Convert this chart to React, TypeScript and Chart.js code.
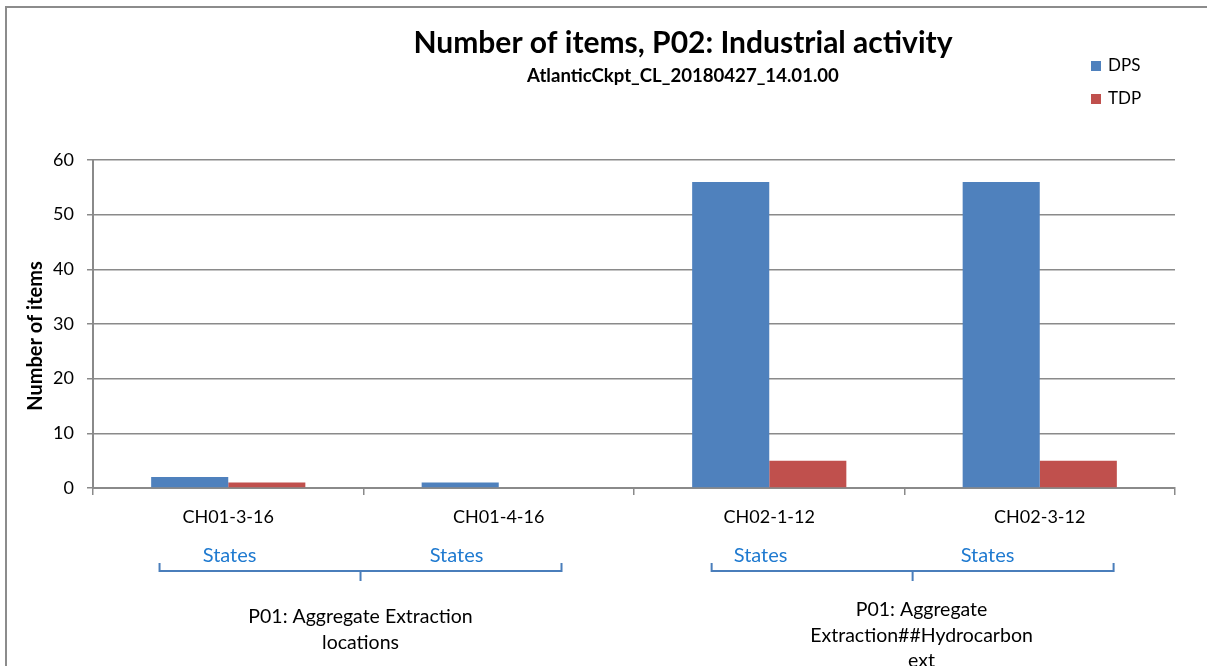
import React, { useEffect, useRef } from 'react';
import { Chart, registerables } from 'chart.js';

Chart.register(...registerables);

const titleText = 'Number of items, P02: Industrial activity';
const subtitleText = 'AtlanticCkpt_CL_20180427_14.01.00';
const yAxisTitle = 'Number of items';
const categories = ['CH01-3-16', 'CH01-4-16', 'CH02-1-12', 'CH02-3-12'];
const seriesNames = ['DPS', 'TDP'];
const dpsValues = [2, 1, 56, 56];
const tdpValues = [1, 0, 5, 5];
const seriesColors = ['#4F81BD', '#C0504D'];
const stateLabels = ['States', 'States', 'States', 'States'];
const groupLabels = [
  ['P01: Aggregate Extraction', 'locations'],
  ['P01: Aggregate', 'Extraction##Hydrocarbon', 'ext'],
];
const yMin = 0;
const yMax = 60;
const yStep = 10;

const FONT = 'Lato, "Open Sans", sans-serif';
const GRID = '#8A8A8A';

// layout tweaks (in category units) for the multi-level label decorations
const stateOffsets = [
  [-0.495, 0.344],
  [-0.532, 0.307],
];
const bracketShift = [-0.011, 0.03];
const groupTextShift = [-0.011, 0.063];

const decorPlugin = {
  id: 'decor',
  afterDraw(chart: any) {
    const ctx = chart.ctx;
    const xs = chart.scales.x;
    const { top, bottom } = chart.chartArea;
    ctx.save();

    // y axis title (drawn slightly below the plot centre, like the source)
    ctx.save();
    ctx.translate(29, (top + bottom) / 2 + 12);
    ctx.rotate(-Math.PI / 2);
    ctx.font = `bold 20px ${FONT}`;
    ctx.fillStyle = '#000';
    ctx.textAlign = 'center';
    ctx.textBaseline = 'middle';
    ctx.fillText(yAxisTitle, 0, 0);
    ctx.restore();

    // legend (stacked, top right)
    ctx.font = `17px ${FONT}`;
    ctx.textBaseline = 'middle';
    ctx.textAlign = 'left';
    chart.data.datasets.forEach((ds: any, i: number) => {
      const y = 58 + i * 33;
      ctx.fillStyle = ds.backgroundColor;
      ctx.fillRect(1084, y - 5, 10, 10);
      ctx.fillStyle = '#000';
      ctx.fillText(ds.label, 1101, y);
    });

    // "States" labels
    ctx.font = `20px ${FONT}`;
    ctx.textAlign = 'center';
    ctx.fillStyle = '#1F7AD0';
    stateLabels.forEach((s, i) => {
      const g = Math.floor(i / 2);
      const center = g * 2 + 0.5;
      const off = stateOffsets[g][i % 2];
      ctx.fillText(s, xs.getPixelForValue(center + off), bottom + 68);
    });

    // brackets + group labels
    groupLabels.forEach((lines, g) => {
      const center = g * 2 + 0.5 + bracketShift[g];
      const l = xs.getPixelForValue(center - 0.743);
      const r = xs.getPixelForValue(center + 0.743);
      const c = xs.getPixelForValue(center);
      ctx.strokeStyle = '#4A7EBB';
      ctx.lineWidth = 2;
      ctx.beginPath();
      ctx.moveTo(l, bottom + 75);
      ctx.lineTo(l, bottom + 83);
      ctx.lineTo(r, bottom + 83);
      ctx.lineTo(r, bottom + 75);
      ctx.moveTo(c, bottom + 83);
      ctx.lineTo(c, bottom + 93);
      ctx.stroke();

      ctx.fillStyle = '#000';
      ctx.font = `19.5px ${FONT}`;
      const tc = xs.getPixelForValue(g * 2 + 0.5 + groupTextShift[g]);
      const startY = bottom + (lines.length === 2 ? 129 : 122);
      lines.forEach((t, k) => {
        ctx.fillText(t, tc, startY + k * 25.5);
      });
    });
    ctx.restore();
  },
};

export default function App() {
  const ref = useRef<HTMLCanvasElement | null>(null);

  useEffect(() => {
    if (!ref.current) return;
    const chart = new Chart(ref.current, {
      type: 'bar',
      data: {
        labels: categories,
        datasets: [
          { label: seriesNames[0], data: dpsValues, backgroundColor: seriesColors[0], borderWidth: 0, yAxisID: 'y' },
          { label: seriesNames[1], data: tdpValues, backgroundColor: seriesColors[1], borderWidth: 0, yAxisID: 'y' },
        ],
      },
      options: {
        responsive: false,
        animation: false,
        maintainAspectRatio: false,
        layout: { padding: 0 },
        datasets: { bar: { categoryPercentage: 0.57, barPercentage: 1 } },
        plugins: {
          legend: { display: false },
          tooltip: { enabled: false },
          title: {
            display: true,
            text: titleText,
            color: '#000',
            font: { family: FONT, size: 30, weight: 'bold' },
            padding: { top: 17, bottom: 3 },
          },
          subtitle: {
            display: true,
            text: subtitleText,
            color: '#000',
            font: { family: FONT, size: 18.6, weight: 'bold' },
            padding: { top: 1, bottom: 72.7 },
          },
        },
        scales: {
          x: {
            offset: true,
            grid: {
              offset: true,
              drawOnChartArea: false,
              drawTicks: true,
              tickLength: 7,
              color: GRID,
              lineWidth: 1.5,
            },
            border: { color: GRID, width: 2 },
            ticks: { color: '#000', font: { family: FONT, size: 18 }, padding: 11 },
            afterFit: (s: any) => {
              s.height = 220;
            },
          },
          y: {
            position: 'left',
            min: yMin,
            max: yMax,
            ticks: { stepSize: yStep, color: '#000', font: { family: FONT, size: 18 }, padding: 13 },
            grid: { color: GRID, lineWidth: 1.5, tickLength: 6 },
            border: { color: GRID, width: 2 },
            afterFit: (s: any) => {
              s.width = 86;
            },
          },
          spacer: {
            type: 'linear',
            position: 'right',
            display: true,
            grid: { display: false, drawTicks: false },
            border: { display: false },
            ticks: { display: false },
            afterFit: (s: any) => {
              s.width = 184;
            },
          },
        },
      },
      plugins: [decorPlugin],
    } as any);
    return () => chart.destroy();
  }, []);

  return (
    <div style={{ position: 'fixed', left: 0, top: 0, width: '100vw', height: '100vh', overflow: 'hidden', background: '#fff' }}>
      <div style={{ position: 'absolute', left: 5, top: 6, border: '2px solid #8C8C8C', width: 1352, height: 700 }}>
        <canvas ref={ref} width={1352} height={700} style={{ display: 'block', width: 1352, height: 700 }} />
      </div>
    </div>
  );
}
